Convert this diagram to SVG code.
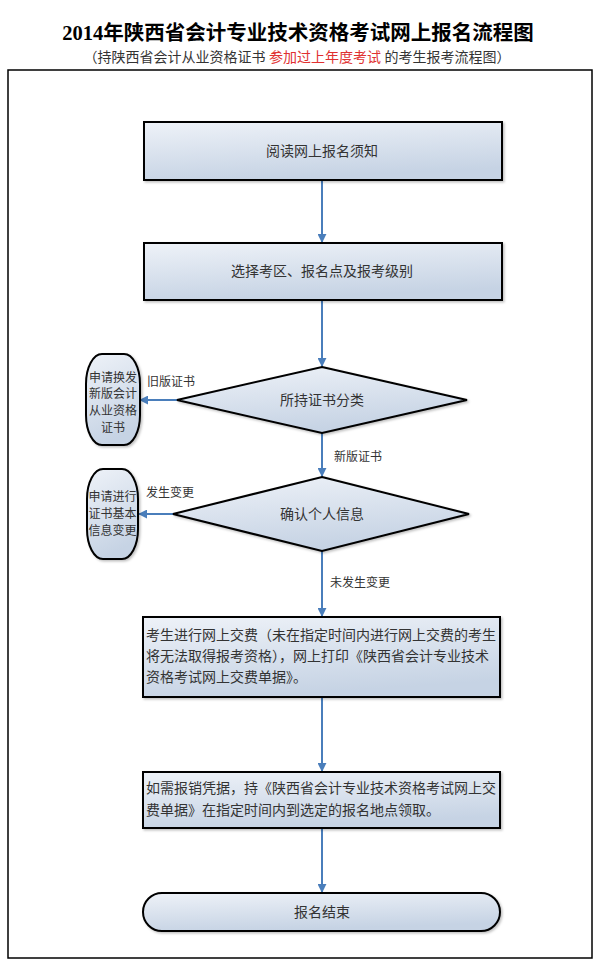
<svg xmlns="http://www.w3.org/2000/svg" width="599" height="963" viewBox="0 0 599 963">
<defs>
<linearGradient id="g" x1="0" y1="0" x2="0.3" y2="1">
<stop offset="0" stop-color="#eef2f8"/>
<stop offset="1" stop-color="#c6d3e4"/>
</linearGradient>
<marker id="ah" viewBox="0 0 10 10" refX="9" refY="5" markerWidth="4.5" markerHeight="4.5" orient="auto" markerUnits="strokeWidth">
<path d="M0,0 L10,5 L0,10 z" fill="#4a7ebb"/>
</marker>
<filter id="sh" x="-10%" y="-10%" width="130%" height="130%">
<feDropShadow dx="1.5" dy="1.5" stdDeviation="1" flood-color="#000" flood-opacity="0.25"/>
</filter>
</defs>
<style>
.n{fill:url(#g);stroke:#000;stroke-width:2;filter:url(#sh)}
.t{font-family:"Liberation Serif","Noto Sans CJK SC",serif;fill:#333;font-size:14px}
.c{text-anchor:middle}
.s{font-size:12px}
.e{stroke:#4a7ebb;stroke-width:2;fill:none;marker-end:url(#ah)}
.l{font-family:"Liberation Serif","Noto Sans CJK SC",serif;fill:#333;font-size:12px}
</style>
<rect width="599" height="963" fill="#fff"/>
<text x="298" y="40" text-anchor="middle" font-family="Liberation Serif,Noto Sans CJK SC,serif" font-weight="bold" font-size="20.5" fill="#000">2014年陕西省会计专业技术资格考试网上报名流程图</text>
<text x="297" y="62" text-anchor="middle" font-family="Liberation Serif,Noto Sans CJK SC,serif" font-size="14" fill="#333">（持陕西省会计从业资格证书 <tspan fill="#e03030">参加过上年度考试</tspan> 的考生报考流程图）</text>
<rect x="8" y="70" width="584" height="888" fill="none" stroke="#000" stroke-width="1.5"/>
<g id="edges">
<line class="e" x1="322" y1="180" x2="322" y2="242"/>
<line class="e" x1="322" y1="300" x2="322" y2="366"/>
<line class="e" x1="177" y1="400" x2="140" y2="400"/>
<line class="e" x1="322" y1="433" x2="322" y2="476"/>
<line class="e" x1="173" y1="514" x2="139" y2="514"/>
<line class="e" x1="322" y1="551" x2="322" y2="616"/>
<line class="e" x1="322" y1="697" x2="322" y2="771"/>
<line class="e" x1="322" y1="828" x2="322" y2="892"/>
<text class="l" x="147" y="386">旧版证书</text>
<text class="l" x="334" y="461">新版证书</text>
<text class="l" x="146" y="497">发生变更</text>
<text class="l" x="330" y="587">未发生变更</text>
</g>
<g id="n1"><rect class="n" x="144" y="122" width="358" height="58"/><text class="t c" x="322" y="156">阅读网上报名须知</text></g>
<g id="n2"><rect class="n" x="144" y="243" width="358" height="57"/><text class="t c" x="322" y="276">选择考区、报名点及报考级别</text></g>
<g id="n3"><polygon class="n" points="322,367 467,400 322,433 177,400"/><text class="t c" x="322" y="405" font-size="15.5">所持证书分类</text></g>
<g id="n4"><rect class="n" x="86" y="354" width="54" height="91" rx="16" ry="30"/><text class="t c s" x="113" y="382">申请换发</text><text class="t c s" x="113" y="398">新版会计</text><text class="t c s" x="113" y="415">从业资格</text><text class="t c s" x="113" y="432">证书</text></g>
<g id="n5"><polygon class="n" points="322,477 469,514 322,551 173,514"/><text class="t c" x="322" y="519" font-size="15.5">确认个人信息</text></g>
<g id="n6"><rect class="n" x="87" y="469" width="51" height="90" rx="16" ry="30"/><text class="t c s" x="112.5" y="501">申请进行</text><text class="t c s" x="112.5" y="518">证书基本</text><text class="t c s" x="112.5" y="535">信息变更</text></g>
<g id="n7"><rect class="n" x="143" y="617" width="357" height="80"/><text class="t" x="146" y="640" font-size="13.7">考生进行网上交费（未在指定时间内进行网上交费的考生</text><text class="t" x="146" y="661" font-size="13.7">将无法取得报考资格），网上打印《陕西省会计专业技术</text><text class="t" x="146" y="682" font-size="13.7">资格考试网上交费单据》。</text></g>
<g id="n8"><rect class="n" x="143" y="772" width="357" height="56"/><text class="t" x="146" y="793" font-size="13.7">如需报销凭据，持《陕西省会计专业技术资格考试网上交</text><text class="t" x="146" y="815" font-size="13.7">费单据》在指定时间内到选定的报名地点领取。</text></g>
<g id="n9"><rect class="n" x="143" y="893" width="357" height="38" rx="19" ry="19"/><text class="t c" x="322" y="917">报名结束</text></g>
</svg>
